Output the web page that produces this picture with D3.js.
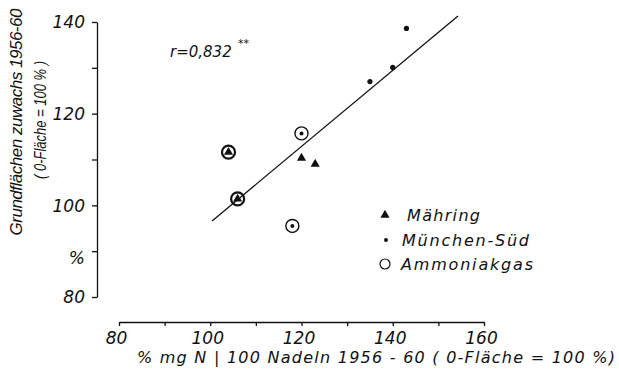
<!DOCTYPE html>
<html>
<head>
<meta charset="utf-8">
<script src="https://cdn.jsdelivr.net/npm/d3@7.9.0/dist/d3.min.js"></script>
<style>
  body { margin: 0; background: #fff; }
  svg { display: block; font-family: 'DejaVu Sans', sans-serif; font-style: italic; fill: #111; }
  .axis path, .axis line { stroke: #111; stroke-width: 1.3; }
  .axis text { font-family: 'DejaVu Sans', sans-serif; font-style: italic; fill: #111; }
  .narrow { font-family: 'Liberation Sans', Arial, sans-serif; }
</style>
</head>
<body>
<div id="chart"></div>
<script>
// Data
const mahringX = [104, 106, 120, 123];
const mahringY = [111.6, 101.4, 110.3, 109.0];
const munchenX = [120, 118, 135, 140, 143];
const munchenY = [115.7, 95.5, 127.0, 130.1, 138.6];
const ammoniakX = [104, 106, 120, 118];
const ammoniakY = [111.6, 101.4, 115.7, 95.5];
const lineX = [100.4, 154.3];
const lineY = [96.6, 141.3];
const xTicks = [80, 90, 100, 110, 120, 130, 140, 150, 160];
const yTicks = [80, 90, 100, 110, 120, 130, 140];
const legendLabels = ['Mähring', 'München-Süd', 'Ammoniakgas'];

const width = 619, height = 376;
const svg = d3.select('#chart').append('svg')
  .attr('width', width).attr('height', height);

const x = d3.scaleLinear().domain([80, 160]).range([119, 484]);
const y = d3.scaleLinear().domain([80, 140]).range([297, 22]);

// Axes
const yAxis = svg.append('g').attr('class', 'axis')
  .attr('transform', 'translate(97,0)')
  .call(d3.axisLeft(y).tickValues(yTicks).tickSize(5).tickSizeOuter(0).tickPadding(7)
    .tickFormat(d => d === 90 ? '%' : (d % 20 === 0 ? d : '')));
yAxis.selectAll('text').style('font-size', '17px').attr('dy', d => d === 90 ? '0.75em' : '0.35em');

const xAxis = svg.append('g').attr('class', 'axis')
  .attr('transform', 'translate(0,322)')
  .call(d3.axisBottom(x).tickValues(xTicks).tickSize(4).tickSizeOuter(0).tickPadding(6)
    .tickFormat(d => d % 20 === 0 ? d : ''));
xAxis.selectAll('text').style('font-size', '17px').attr('dx', '-3px');

// Axis titles
svg.append('text').attr('class', 'narrow')
  .attr('transform', 'translate(22,122) rotate(-90)')
  .attr('text-anchor', 'middle')
  .attr('textLength', 227).attr('lengthAdjust', 'spacing')
  .style('font-size', '17px')
  .text('Grundflächen zuwachs 1956-60');
svg.append('text').attr('class', 'narrow')
  .attr('transform', 'translate(46,120) rotate(-90)')
  .attr('text-anchor', 'middle')
  .attr('textLength', 118).attr('lengthAdjust', 'spacingAndGlyphs')
  .style('font-size', '16px')
  .text('( 0-Fläche = 100 % )');
svg.append('text')
  .attr('x', 137).attr('y', 363)
  .attr('textLength', 478).attr('lengthAdjust', 'spacing')
  .style('font-size', '16px')
  .text('%   mg N | 100 Nadeln 1956 - 60   ( 0-Fläche = 100 %)');

// Correlation label
svg.append('text').attr('x', 170).attr('y', 57)
  .style('font-size', '15px').text('r=0,832');
svg.append('text').attr('x', 238).attr('y', 47)
  .style('font-size', '11px').text('**');

// Regression line
svg.append('line')
  .attr('x1', x(lineX[0])).attr('y1', y(lineY[0]))
  .attr('x2', x(lineX[1])).attr('y2', y(lineY[1]))
  .attr('stroke', '#111').attr('stroke-width', 1.3);

const tri = d3.symbol().type(d3.symbolTriangle).size(36);

// Ammoniakgas rings
svg.append('g').selectAll('circle')
  .data(ammoniakX.map((d, i) => [d, ammoniakY[i]]))
  .join('circle')
  .attr('cx', d => x(d[0])).attr('cy', d => y(d[1]))
  .attr('r', 6.5).attr('fill', 'none').attr('stroke', '#111')
  .attr('stroke-width', (d, i) => i < 2 ? 2.2 : 1.4);

// Mähring triangles
svg.append('g').selectAll('path')
  .data(mahringX.map((d, i) => [d, mahringY[i]]))
  .join('path')
  .attr('d', tri)
  .attr('transform', d => `translate(${x(d[0])},${y(d[1])})`)
  .attr('fill', '#111');

// München-Süd dots
svg.append('g').selectAll('circle')
  .data(munchenX.map((d, i) => [d, munchenY[i]]))
  .join('circle')
  .attr('cx', d => x(d[0])).attr('cy', d => y(d[1]))
  .attr('r', (d, i) => i < 2 ? 2 : 2.6).attr('fill', '#111');

// Legend
const lg = svg.append('g');
lg.append('path').attr('d', tri).attr('transform', 'translate(385,215)').attr('fill', '#111');
lg.append('circle').attr('cx', 386).attr('cy', 240).attr('r', 2).attr('fill', '#111');
lg.append('circle').attr('cx', 385).attr('cy', 264).attr('r', 5).attr('fill', 'none')
  .attr('stroke', '#111').attr('stroke-width', 1.2);
const lgX = [407, 402, 401];
const lgY = [221, 246, 270];
const lgLen = [73, 127, 132];
lg.selectAll('text').data(legendLabels).join('text')
  .attr('x', (d, i) => lgX[i]).attr('y', (d, i) => lgY[i])
  .attr('textLength', (d, i) => lgLen[i]).attr('lengthAdjust', 'spacing')
  .style('font-size', '16px')
  .text(d => d);
</script>
</body>
</html>
